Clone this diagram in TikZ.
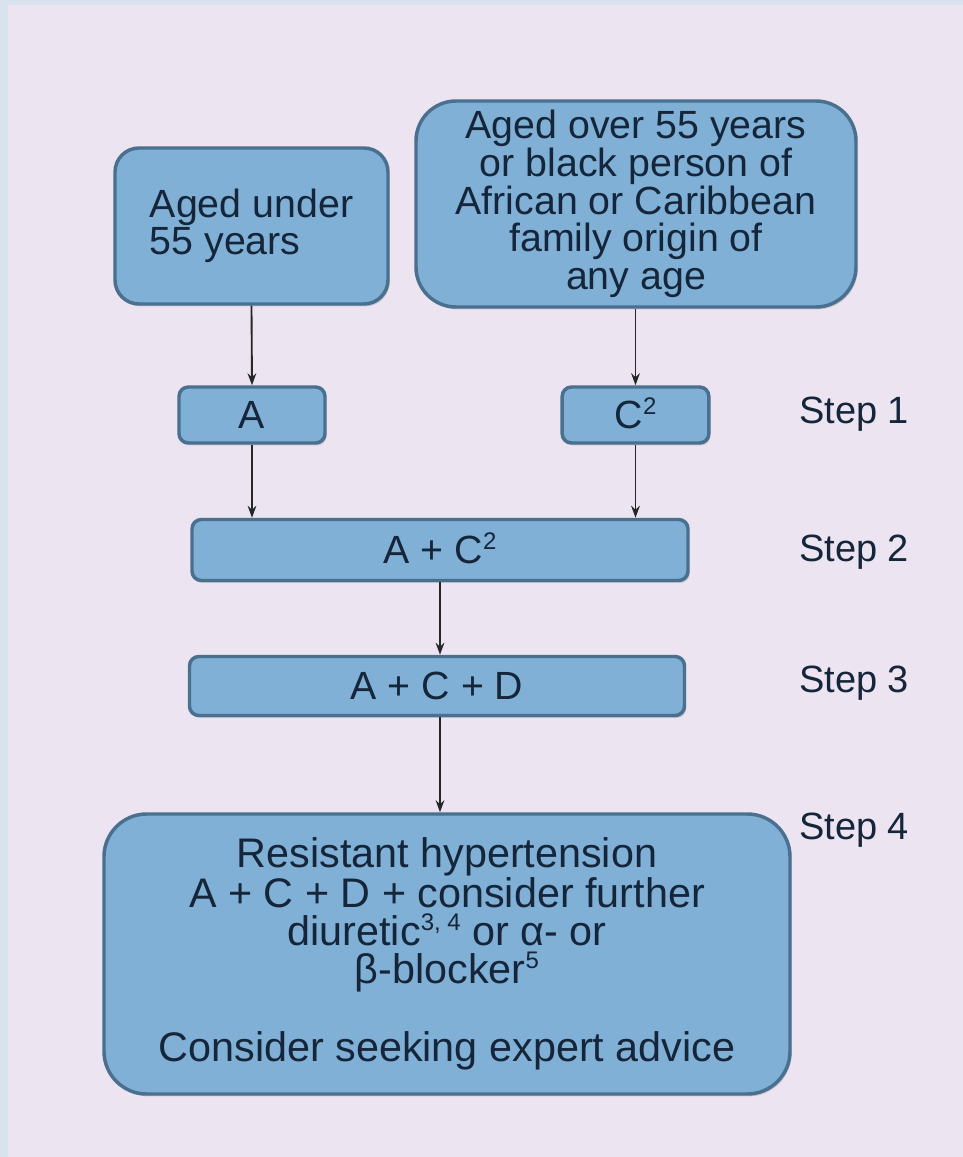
\documentclass[tikz,border=0pt]{standalone}
\usepackage{fontspec}
\setmainfont{Liberation Sans}
\usetikzlibrary{arrows.meta,shadows}
\definecolor{frameblue}{HTML}{D8E3EE}
\definecolor{lav}{HTML}{ECE4F1}
\definecolor{boxfill}{HTML}{80B0D5}
\definecolor{boxedge}{HTML}{4A7090}
\definecolor{ink}{HTML}{15253A}
\newcommand{\supr}[1]{\smash{\raisebox{0.36em}{\fontsize{18}{18}\selectfont #1}}}
\tikzset{
  flowbox/.style={draw=boxedge, fill=boxfill, line width=2.6pt, text=ink,
    align=center, inner sep=0pt,
    drop shadow={opacity=0.3, shadow xshift=1.2pt, shadow yshift=-1.8pt}},
  flowarrow/.style={-{Stealth[length=9pt,width=6.5pt]}, line width=1.4pt, draw=black!85},
  steplabel/.style={text=ink, anchor=west, inner sep=0pt, font=\fontsize{28.5}{28.5}\selectfont},
}
\begin{document}
\begin{tikzpicture}[x=0.75pt, y=-0.75pt, font=\fontsize{29.5}{28.2}\selectfont]
\fill[frameblue] (0,0) rectangle (963,1157);
\fill[lav] (8,5) rectangle (963,1157);
\useasboundingbox (0,0) rectangle (963,1157);

\node[flowbox, rounded corners=18pt, minimum width=204.75pt, minimum height=117pt, align=left]
  (under) at (251.5,226) {Aged under\\55 years};
\node[flowbox, rounded corners=30pt, minimum width=330pt, minimum height=154.5pt]
  (over) at (636,204) {Aged over 55 years\\or black person of\\African or Caribbean\\family origin of\\any age};
\node[flowbox, rounded corners=7pt, minimum width=109.5pt, minimum height=42pt]
  (A) at (252,415) {A};
\node[flowbox, rounded corners=7pt, minimum width=110pt, minimum height=42pt]
  (C) at (635.5,415) {C\supr{2}};
\node[flowbox, rounded corners=7pt, minimum width=372pt, minimum height=45.75pt]
  (AC) at (440,550) {A + C\supr{2}};
\node[flowbox, rounded corners=7pt, minimum width=371.25pt, minimum height=44.25pt]
  (ACD) at (437,686) {A + C + D};
\node[flowbox, rounded corners=32pt, minimum width=514.5pt, minimum height=210pt,
  font=\fontsize{31}{28.5}\selectfont]
  (R) at (447,954) {Resistant hypertension\\A + C + D + consider further\\diuretic\supr{3, 4} or α- or\\β-blocker\supr{5}\\[28.5pt]Consider seeking expert advice};

\node[steplabel] (s1) at (799,414) {Step 1};
\node[steplabel] (s2) at (799,552) {Step 2};
\node[steplabel] (s3) at (799,683) {Step 3};
\node[steplabel] (s4) at (799,830) {Step 4};

\draw[flowarrow] (under.south) -- (A.north);
\draw[flowarrow] (C.north |- over.south) -- (C.north);
\draw[flowarrow] (A.south) -- (A.south |- AC.north);
\draw[flowarrow] (C.south) -- (C.south |- AC.north);
\draw[flowarrow] (AC.south) -- (AC.south |- ACD.north);
\draw[flowarrow] (ACD.south -| AC.south) -- (R.north -| AC.south);
\end{tikzpicture}
\end{document}
